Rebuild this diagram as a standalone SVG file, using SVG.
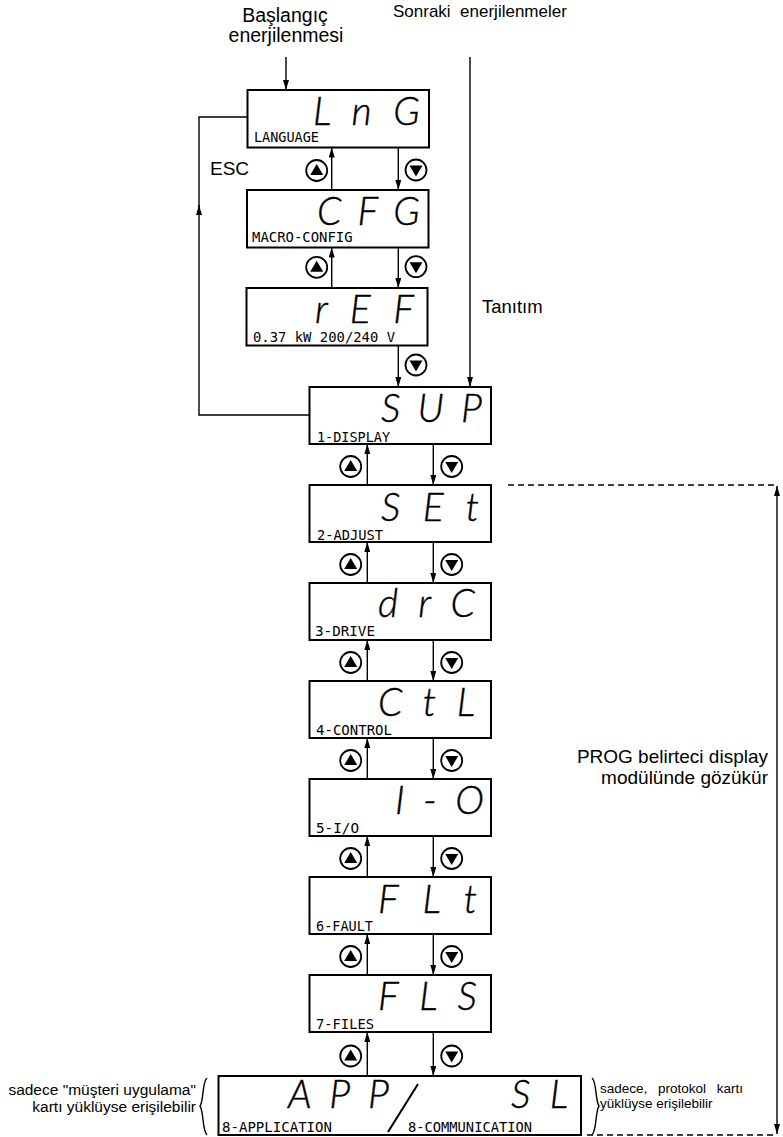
<svg xmlns="http://www.w3.org/2000/svg" width="783" height="1137" viewBox="0 0 783 1137">
<defs>
<marker id="ah" viewBox="0 0 10 6" refX="10" refY="3" markerWidth="10" markerHeight="6" markerUnits="userSpaceOnUse" orient="auto-start-reverse"><path d="M0,0 L10,3 L0,6 z" fill="#000"/></marker>
<g id="bu"><circle cx="0" cy="0" r="10.5" fill="#fff" stroke="#000" stroke-width="1.8"/><path d="M0,-6.5 L6.5,4.5 L-6.5,4.5 z" fill="#000"/></g>
<g id="bd"><circle cx="0" cy="0" r="10.5" fill="#fff" stroke="#000" stroke-width="1.8"/><path d="M0,6.5 L6.5,-4.5 L-6.5,-4.5 z" fill="#000"/></g>
</defs>
<style>
.box{fill:#fff;stroke:#000;stroke-width:2}
.seg{font-family:"Lato","DejaVu Sans",sans-serif;font-style:italic;font-weight:300;font-size:39px;fill:#000;stroke:#000;stroke-width:0.4}
.lbl{font-family:"DejaVu Sans Mono",monospace;font-size:14.5px;fill:#000}
.t{font-family:"Liberation Sans",Arial,sans-serif;fill:#000}
.c{fill:none;stroke:#000;stroke-width:1.4}
.d{fill:none;stroke:#000;stroke-width:1.3;stroke-dasharray:6 4}
</style>
<rect width="783" height="1137" fill="#fff"/>

<g id="texts">
<text class="t" x="285" y="21.7" font-size="19.5" text-anchor="middle">Başlangıç</text>
<text class="t" x="286" y="41.7" font-size="19.5" text-anchor="middle">enerjilenmesi</text>
<text class="t" x="393" y="17.3" font-size="17" style="white-space:pre">Sonraki  enerjilenmeler</text>
<text class="t" x="210" y="175" font-size="19">ESC</text>
<text class="t" x="482" y="313" font-size="18.5">Tanıtım</text>
<text class="t" x="768" y="763" font-size="19" text-anchor="end">PROG belirteci display</text>
<text class="t" x="768" y="784" font-size="19" text-anchor="end">modülünde gözükür</text>
<text class="t" x="196" y="1095" font-size="15.5" text-anchor="end">sadece "müşteri uygulama"</text>
<text class="t" x="196" y="1112" font-size="15.5" text-anchor="end">kartı yüklüyse erişilebilir</text>
<text class="t" x="600" y="1093" font-size="13.5" word-spacing="7">sadece, protokol kartı</text>
<text class="t" x="600" y="1108" font-size="13.5">yüklüyse erişilebilir</text>
</g>

<g id="connectors">
<path class="c" d="M286,57 V90" marker-end="url(#ah)"/>
<path class="c" d="M470,57 V387" marker-end="url(#ah)"/>
<path class="c" d="M309,415 H199 V205" marker-end="url(#ah)"/>
<path class="c" d="M199,207 V117 H248"/>
<path class="c" d="M398.3,147.5 V190" marker-end="url(#ah)"/>
<path class="c" d="M331.7,190 V147.5" marker-end="url(#ah)"/>
<path class="c" d="M398.3,247.5 V288" marker-end="url(#ah)"/>
<path class="c" d="M331.7,288 V247.5" marker-end="url(#ah)"/>
<path class="c" d="M398.3,345.5 V387" marker-end="url(#ah)"/>
<path class="c" d="M433.3,444 V485" marker-end="url(#ah)"/>
<path class="c" d="M367.3,485 V444" marker-end="url(#ah)"/>
<path class="c" d="M433.3,542 V583" marker-end="url(#ah)"/>
<path class="c" d="M367.3,583 V542" marker-end="url(#ah)"/>
<path class="c" d="M433.3,640 V681" marker-end="url(#ah)"/>
<path class="c" d="M367.3,681 V640" marker-end="url(#ah)"/>
<path class="c" d="M433.3,738 V779" marker-end="url(#ah)"/>
<path class="c" d="M367.3,779 V738" marker-end="url(#ah)"/>
<path class="c" d="M433.3,836 V877" marker-end="url(#ah)"/>
<path class="c" d="M367.3,877 V836" marker-end="url(#ah)"/>
<path class="c" d="M433.3,934 V975" marker-end="url(#ah)"/>
<path class="c" d="M367.3,975 V934" marker-end="url(#ah)"/>
<path class="c" d="M433.3,1032 V1076" marker-end="url(#ah)"/>
<path class="c" d="M367.3,1076 V1032" marker-end="url(#ah)"/>
<path class="d" d="M508,485 H777"/>
<path class="d" d="M587,1135 H777"/>
<path class="c" d="M777,486 V1134" marker-start="url(#ah)" marker-end="url(#ah)"/>
<path class="c" d="M207,1078 C202,1082 204,1100 200,1106 C204,1112 202,1130 207,1135"/>
<path class="c" d="M592,1078 C597,1082 595,1100 599,1106 C595,1112 597,1130 592,1135"/>
</g>

<g id="buttons">
<use href="#bu" x="316.7" y="170.5"/><use href="#bd" x="416" y="170"/>
<use href="#bu" x="316.7" y="267.3"/><use href="#bd" x="416" y="266.7"/>
<use href="#bd" x="416" y="365"/>
<use href="#bu" x="350.7" y="466.5"/><use href="#bd" x="451.7" y="466.5"/>
<use href="#bu" x="350.7" y="564.5"/><use href="#bd" x="451.7" y="564.5"/>
<use href="#bu" x="350.7" y="662.5"/><use href="#bd" x="451.7" y="662.5"/>
<use href="#bu" x="350.7" y="760.5"/><use href="#bd" x="451.7" y="760.5"/>
<use href="#bu" x="350.7" y="858.5"/><use href="#bd" x="451.7" y="858.5"/>
<use href="#bu" x="350.7" y="956.5"/><use href="#bd" x="451.7" y="956.5"/>
<use href="#bu" x="350.7" y="1056"/><use href="#bd" x="451.7" y="1056"/>
</g>

<g id="n-lng"><rect class="box" x="247.5" y="90" width="181.5" height="57.5"/><text class="seg" x="313" y="125" textLength="107">L n G</text><text class="lbl" x="254" y="142" textLength="65" lengthAdjust="spacingAndGlyphs">LANGUAGE</text></g>
<g id="n-cfg"><rect class="box" x="247" y="190" width="181.5" height="57.5"/><text class="seg" x="317" y="225" textLength="103">C F G</text><text class="lbl" x="252" y="242" textLength="100.6" lengthAdjust="spacingAndGlyphs">MACRO-CONFIG</text></g>
<g id="n-ref"><rect class="box" x="246.5" y="288" width="181" height="57.5"/><text class="seg" x="315" y="323" textLength="99">r E F</text><text class="lbl" x="253" y="342" textLength="142" lengthAdjust="spacingAndGlyphs">0.37 kW 200/240 V</text></g>
<g id="n-sup"><rect class="box" x="309.5" y="387" width="181.5" height="57"/><text class="seg" x="381" y="421.7" textLength="101">S U P</text><text class="lbl" x="317" y="441.7" textLength="73" lengthAdjust="spacingAndGlyphs">1-DISPLAY</text></g>
<g id="n-set"><rect class="box" x="309.5" y="485" width="181.5" height="57"/><text class="seg" x="381" y="520.5" textLength="98">S E t</text><text class="lbl" x="317" y="539.5" textLength="66" lengthAdjust="spacingAndGlyphs">2-ADJUST</text></g>
<g id="n-drc"><rect class="box" x="309.5" y="583" width="181.5" height="57"/><text class="seg" x="378" y="616.5" textLength="97">d r C</text><text class="lbl" x="315" y="636" textLength="60" lengthAdjust="spacingAndGlyphs">3-DRIVE</text></g>
<g id="n-ctl"><rect class="box" x="309.5" y="681" width="181.5" height="57"/><text class="seg" x="378" y="716" textLength="97">C t L</text><text class="lbl" x="316" y="735" textLength="76" lengthAdjust="spacingAndGlyphs">4-CONTROL</text></g>
<g id="n-io"><rect class="box" x="309.5" y="779" width="181.5" height="57"/><text class="seg" x="395" y="813.5" textLength="89">I - O</text><text class="lbl" x="316" y="832.5" textLength="43" lengthAdjust="spacingAndGlyphs">5-I/O</text></g>
<g id="n-flt"><rect class="box" x="309.5" y="877" width="181.5" height="57"/><text class="seg" x="378" y="912.5" textLength="99">F L t</text><text class="lbl" x="316" y="931" textLength="57" lengthAdjust="spacingAndGlyphs">6-FAULT</text></g>
<g id="n-fls"><rect class="box" x="309.5" y="975" width="181.5" height="57"/><text class="seg" x="378" y="1010" textLength="99">F L S</text><text class="lbl" x="316" y="1029" textLength="58" lengthAdjust="spacingAndGlyphs">7-FILES</text></g>
<g id="n-app"><rect class="box" x="218.5" y="1076" width="362.5" height="59"/><text class="seg" x="288" y="1108" textLength="101">A P P</text><line x1="388" y1="1132" x2="418" y2="1084" stroke="#000" stroke-width="2"/><text class="seg" x="511" y="1108" textLength="57">S L</text><text class="lbl" x="222" y="1132" textLength="110" lengthAdjust="spacingAndGlyphs">8-APPLICATION</text><text class="lbl" x="408" y="1132" textLength="124" lengthAdjust="spacingAndGlyphs">8-COMMUNICATION</text></g>
</svg>
